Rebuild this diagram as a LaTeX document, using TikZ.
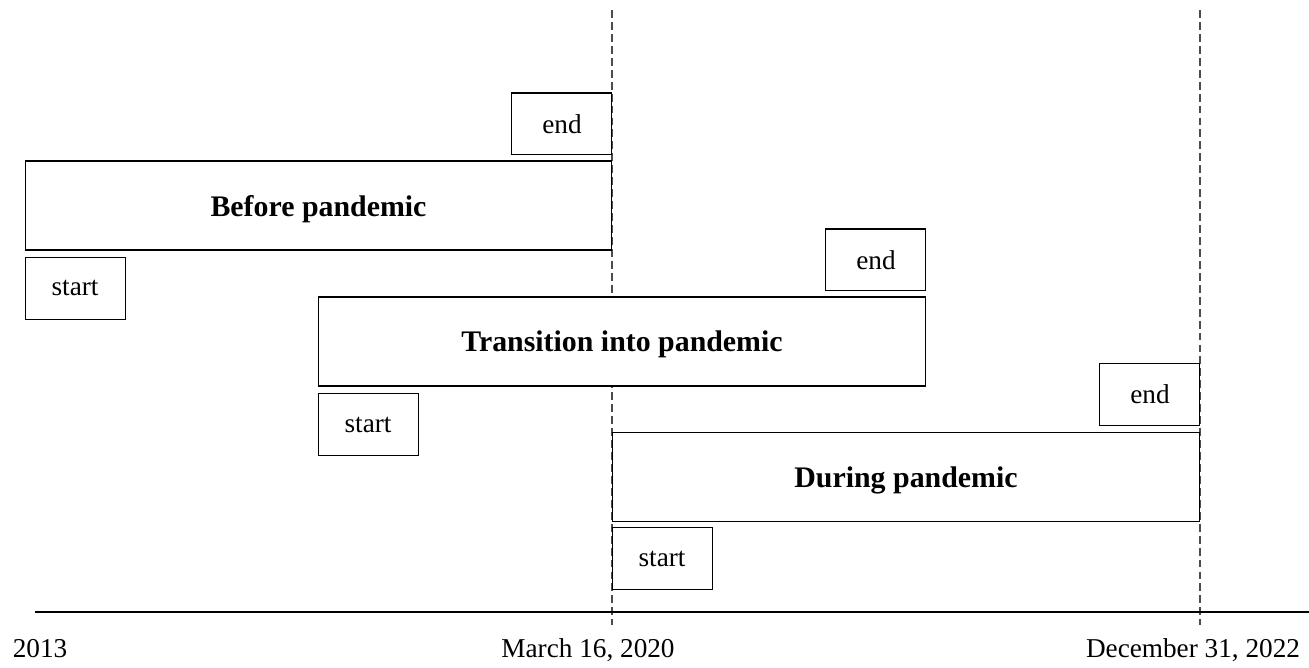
\documentclass[tikz,border=0pt]{standalone}
\usepackage{fontspec}
\setmainfont{Liberation Serif}
\usetikzlibrary{positioning}

\tikzset{
  period/.style={draw, fill=white, line width=0.6pt, inner sep=0pt, minimum height=1.78cm,
    text depth=0pt, font=\bfseries\fontsize{17}{20}\selectfont},
  tag/.style={draw, fill=white, line width=0.6pt, inner sep=0pt, minimum width=2.0cm,
    minimum height=1.24cm, font=\fontsize{15.5}{18}\selectfont},
  datelabel/.style={font=\fontsize{15.5}{18}\selectfont, inner sep=0pt, anchor=base},
  cutline/.style={dash pattern=on 4.5pt off 2.3pt, gray!60!black, line width=0.6pt}
}

\begin{document}
\begin{tikzpicture}[x=0.02cm, y=-0.02cm]
\useasboundingbox (0,0) rectangle (1309,667);

% cut dates
\coordinate (c1top) at (612,10);
\coordinate (c1bot) at (612,625);
\coordinate (c2top) at (1200,10);
\coordinate (c2bot) at (1200,625);
\draw [cutline] (c1top) -- (c1bot);
\draw [cutline] (c2top) -- (c2bot);

% time axis
\coordinate (axl) at (35,612);
\coordinate (axr) at (1309,612);
\draw [line width=1.2pt] (axl) -- (axr);

\node [datelabel] (d2013) at (40,657) {2013};
\node [datelabel] (dmarch) at (588,657) {March 16, 2020};
\node [datelabel] (ddec) at (1193,657) {December 31, 2022};

% periods
\node [period, minimum width=11.74cm] (before) at (318.5,205.5) {Before pandemic};
\node [tag, above left=0.1cm and 0cm of before.north east, anchor=south east] (before-end) {end};
\node [tag, below right=0.12cm and 0cm of before.south west, anchor=north west] (before-start) {start};

\node [period, minimum width=12.16cm] (trans) at (622,341.5) {Transition into pandemic};
\node [tag, above left=0.1cm and 0cm of trans.north east, anchor=south east] (trans-end) {end};
\node [tag, below right=0.13cm and 0cm of trans.south west, anchor=north west] (trans-start) {start};

\node [period, minimum width=11.76cm] (during) at (906,477) {During pandemic};
\node [tag, above left=0.12cm and 0cm of during.north east, anchor=south east] (during-end) {end};
\node [tag, below right=0.1cm and 0cm of during.south west, anchor=north west] (during-start) {start};

\end{tikzpicture}
\end{document}
